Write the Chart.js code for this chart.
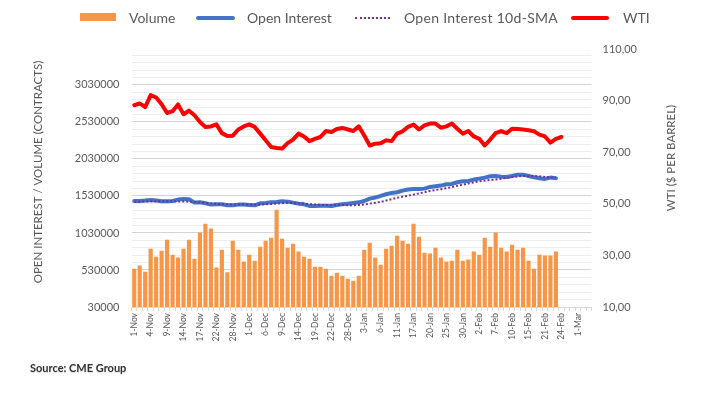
<!DOCTYPE html>
<html>
<head>
<meta charset="utf-8">
<script src="https://cdn.jsdelivr.net/npm/chart.js@4.4.0/dist/chart.umd.min.js"></script>
<style>
  html, body { margin: 0; padding: 0; background: #fff; }
  .wrap { position: relative; width: 703px; height: 394px; font-family: Lato, sans-serif; color: #595959; }
  canvas { position: absolute; left: 0; top: 0; }
  .sw { position: absolute; }
  .txt { position: absolute; top: 9px; font-size: 14px; line-height: 18px; white-space: nowrap; }
  .source { position: absolute; left: 30px; top: 361px; font-size: 11px; font-weight: bold; color: #333; text-shadow: 0 1px 1px rgba(0,0,0,0.15); }
</style>
</head>
<body>
<div class="wrap">
  <canvas id="chart" width="703" height="394"></canvas>

  <!-- legend -->
  <div class="sw" style="left:80px;top:13px;width:36px;height:8px;background:#F79646;"></div>
  <div class="txt" style="left:129px;">Volume</div>
  <div class="sw" style="left:196px;top:15.5px;width:39px;height:4px;border-radius:2px;background:#4472C4;"></div>
  <div class="txt" style="left:247px;">Open Interest</div>
  <div class="sw" style="left:355px;top:16.5px;width:35px;height:0;border-top:2px dotted #7030A0;"></div>
  <div class="txt" style="left:404px;letter-spacing:0.3px;">Open Interest 10d-SMA</div>
  <div class="sw" style="left:571px;top:15.5px;width:38px;height:4px;border-radius:2px;background:#FF0000;"></div>
  <div class="txt" style="left:623px;">WTI</div>

  <div class="source">Source: CME Group</div>
</div>

<script>
// trading days, Nov 1 to Mar 3
const dates = [
  "1-Nov", "2-Nov", "3-Nov", "4-Nov", "7-Nov", "8-Nov", "9-Nov", "10-Nov", "11-Nov", "14-Nov",
  "15-Nov", "16-Nov", "17-Nov", "18-Nov", "21-Nov", "22-Nov", "23-Nov", "25-Nov", "28-Nov", "29-Nov",
  "30-Nov", "1-Dec", "2-Dec", "5-Dec", "6-Dec", "7-Dec", "8-Dec", "9-Dec", "12-Dec", "13-Dec",
  "14-Dec", "15-Dec", "16-Dec", "19-Dec", "20-Dec", "21-Dec", "22-Dec", "23-Dec", "27-Dec", "28-Dec",
  "29-Dec", "30-Dec", "3-Jan", "4-Jan", "5-Jan", "6-Jan", "9-Jan", "10-Jan", "11-Jan", "12-Jan",
  "13-Jan", "17-Jan", "18-Jan", "19-Jan", "20-Jan", "23-Jan", "24-Jan", "25-Jan", "26-Jan", "27-Jan",
  "30-Jan", "31-Jan", "1-Feb", "2-Feb", "3-Feb", "6-Feb", "7-Feb", "8-Feb", "9-Feb", "10-Feb",
  "13-Feb", "14-Feb", "15-Feb", "16-Feb", "17-Feb", "21-Feb", "22-Feb", "23-Feb", "24-Feb", "27-Feb",
  "28-Feb", "1-Mar", "2-Mar", "3-Mar"
];

const volume = [
  548000, 589000, 507500, 818000, 710000, 791000, 940000, 737000, 697000, 818000,
  940000, 683000, 1035000, 1156000, 1089000, 562000, 805000, 498500, 926000, 805000,
  643000, 737000, 656000, 845000, 926000, 967000, 1345000, 953500, 832000, 886000,
  778000, 710000, 683000, 575000, 575000, 548000, 453500, 494000, 453500, 413000,
  386000, 453500, 805000, 899500, 697000, 602000, 818000, 859000, 994000, 926000,
  886000, 1156000, 980500, 764000, 751000, 832000, 697000, 643000, 656000, 805000,
  656000, 670000, 778000, 737000, 967000, 845000, 1035000, 832000, 778000, 872000,
  805000, 832000, 656000, 548000, 737000, 724000, 724000, 778000
];

const openInterest = [
  1462000, 1462000, 1468000, 1476000, 1468000, 1458000, 1458000, 1462000, 1481000, 1490000,
  1485000, 1440000, 1444000, 1431000, 1413000, 1417000, 1417000, 1404000, 1404000, 1413000,
  1413000, 1408000, 1404000, 1431000, 1435000, 1444000, 1449000, 1458000, 1453000, 1440000,
  1426000, 1417000, 1395000, 1395000, 1399000, 1399000, 1395000, 1408000, 1417000, 1426000,
  1435000, 1444000, 1462000, 1494000, 1508000, 1530000, 1553000, 1571000, 1580000, 1602000,
  1616000, 1625000, 1625000, 1629000, 1652000, 1661000, 1670000, 1688000, 1692000, 1715000,
  1728000, 1733000, 1751000, 1764000, 1778000, 1796000, 1800000, 1791000, 1787000, 1800000,
  1818000, 1818000, 1800000, 1782000, 1769000, 1760000, 1778000, 1769000
];

const oiSma = [
  1449000, 1452000, 1455000, 1458000, 1458000, 1458000, 1458000, 1458000, 1456000, 1455000,
  1453000, 1450000, 1445000, 1435000, 1428000, 1424000, 1420000, 1417000, 1416000, 1415000,
  1414000, 1413000, 1413000, 1415000, 1418000, 1422000, 1428000, 1433000, 1440000, 1435000,
  1430000, 1425000, 1420000, 1415000, 1410000, 1408000, 1410000, 1412000, 1410000, 1406000,
  1405000, 1408000, 1415000, 1426000, 1438000, 1449000, 1468000, 1485000, 1505000, 1520000,
  1533000, 1548000, 1565000, 1580000, 1598000, 1610000, 1622000, 1634000, 1650000, 1667000,
  1683000, 1698000, 1713000, 1728000, 1737000, 1745000, 1751000, 1763000, 1775000, 1787000,
  1794000, 1800000, 1800000, 1800000, 1795000, 1787000, 1782000, 1778000
];

const wti = [
  88.2, 88.9, 87.5, 92.1, 91.2, 88.6, 85.2, 85.9, 88.5, 84.7,
  86.1, 84.3, 81.7, 79.8, 80.0, 80.8, 77.4, 76.3, 76.4, 78.8,
  80.0, 80.8, 79.8, 77.2, 74.6, 72.0, 71.6, 71.4, 73.5, 74.9,
  77.2, 76.1, 74.3, 75.2, 75.9, 78.2, 77.8, 79.0, 79.4, 78.8,
  78.2, 80.0, 76.5, 72.6, 73.3, 73.5, 74.6, 74.3, 77.2, 78.1,
  79.8, 80.7, 78.8, 80.4, 81.1, 81.1, 79.5, 80.0, 81.1, 79.1,
  77.2, 78.2, 76.1, 75.2, 72.6, 74.9, 77.4, 78.2, 77.4, 79.1,
  79.0, 78.8, 78.5, 78.1, 76.8, 76.1, 73.7, 75.2, 75.9
];

const leftTicks = [30000, 530000, 1030000, 1530000, 2030000, 2530000, 3030000];
const rightTicks = [10, 30, 50, 70, 90, 110];

const textColor = "#595959";
const tickFont = { family: "Lato", size: 11 };

// axis titles read bottom-to-top on both sides
const axisTitles = {
  id: "axisTitles",
  afterDraw(chart) {
    const c = chart.ctx;
    const draw = (text, x, y) => {
      c.save();
      c.fillStyle = textColor;
      c.font = "11.5px Lato";
      c.textAlign = "center";
      c.textBaseline = "middle";
      c.translate(x, y);
      c.rotate(-Math.PI / 2);
      c.fillText(text, 0, 0);
      c.restore();
    };
    draw("OPEN INTEREST / VOLUME (CONTRACTS)", 38, 172);
    draw("WTI ($ PER BARREL)", 671, 158);
  },
};

new Chart(document.getElementById("chart"), {
  type: "bar",
  data: {
    labels: dates,
    datasets: [
      {
        type: "line",
        label: "WTI",
        data: wti,
        yAxisID: "y1",
        borderColor: "#FF0000",
        borderWidth: 4,
        pointRadius: 0,
        borderJoinStyle: "round",
        borderCapStyle: "round",
        order: 0,
      },
      {
        type: "line",
        label: "Open Interest 10d-SMA",
        data: oiSma,
        yAxisID: "y",
        borderColor: "#7030A0",
        borderWidth: 2,
        borderDash: [2, 2],
        pointRadius: 0,
        order: 1,
      },
      {
        type: "line",
        label: "Open Interest",
        data: openInterest,
        yAxisID: "y",
        borderColor: "#4472C4",
        borderWidth: 4,
        pointRadius: 0,
        borderJoinStyle: "round",
        borderCapStyle: "round",
        order: 2,
      },
      {
        type: "bar",
        label: "Volume",
        data: volume,
        yAxisID: "y",
        backgroundColor: "#F79646",
        barPercentage: 0.76,
        categoryPercentage: 1,
        order: 3,
      },
    ],
  },
  options: {
    responsive: false,
    animation: false,
    layout: { padding: { top: 49, left: 0, right: 0, bottom: 0 } },
    plugins: { legend: { display: false }, tooltip: { enabled: false } },
    scales: {
      x: {
        offset: true,
        grid: { offset: true, drawOnChartArea: false, drawTicks: true, tickLength: 4, color: "#d9d9d9" },
        border: { color: "#d9d9d9" },
        ticks: {
          autoSkip: false,
          minRotation: 90,
          maxRotation: 90,
          padding: 2,
          color: textColor,
          font: { family: "Lato", size: 8.5 },
          callback: (v, i) => (i % 3 === 0 ? dates[i] : ""),
        },
        afterFit: (s) => { s.height = 87; },
      },
      y: {
        position: "left",
        min: 30000,
        max: 3515000,
        afterBuildTicks: (s) => {
          const t = [];
          for (let v = 30000; v <= 3430000; v += 100000) t.push({ value: v });
          s.ticks = t;
        },
        grid: {
          drawTicks: false,
          color: (ctx) => (leftTicks.includes(ctx.tick.value) ? "#d4d4d4" : "#eeeeee"),
        },
        border: { display: false },
        ticks: {
          autoSkip: false,
          padding: 12,
          color: textColor,
          font: tickFont,
          callback: (v) => (leftTicks.includes(v) ? String(v) : ""),
        },
        afterFit: (s) => { s.width = 131.5; },
      },
      y1: {
        position: "right",
        min: 10,
        max: 110,
        afterBuildTicks: (s) => { s.ticks = rightTicks.map((v) => ({ value: v })); },
        grid: { display: false, drawTicks: false },
        border: { display: false },
        ticks: {
          autoSkip: false,
          padding: 11,
          color: textColor,
          font: tickFont,
          callback: (v) => v.toFixed(2).replace(".", ","),
        },
        afterFit: (s) => { s.width = 111.5; },
      },
    },
  },
  plugins: [axisTitles],
});
</script>
</body>
</html>
